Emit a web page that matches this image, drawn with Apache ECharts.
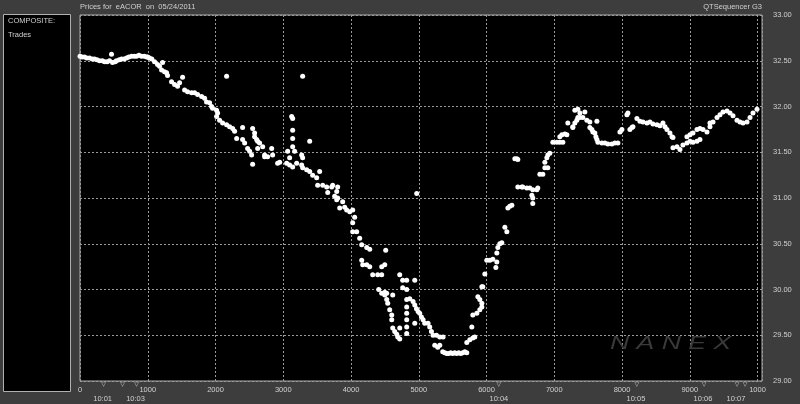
<!DOCTYPE html>
<html><head><meta charset="utf-8">
<script src="https://cdn.jsdelivr.net/npm/echarts@6/dist/echarts.min.js"></script>
<style>html,body{margin:0;padding:0;background:#3d3d3d}#c{width:800px;height:404px}</style>
</head><body><div id="c"></div>
<script>
// ---- data: [trade index, price] ----
const openFlat = [[0,32.55],[30,32.54],[66,32.54],[100,32.53],[140,32.53],[180,32.52],[214,32.52],[250,32.51],[288,32.50],[330,32.50],[362,32.49],[400,32.49],[436,32.50],[465,32.57],[480,32.48],[520,32.49],[539,32.50],[580,32.51],[613,32.52],[650,32.52],[687,32.53],[720,32.54],[761,32.55],[800,32.55],[834,32.55],[870,32.56],[908,32.55],[950,32.55],[982,32.54],[1000,32.54],[1026,32.53],[1060,32.52]];
const decline = [[1100,32.49],[1145,32.46],[1174,32.44],[1204,32.40],[1219,32.48],[1248,32.38],[1278,32.37],[1292,32.34],[1351,32.27],[1396,32.24],[1440,32.22],[1470,32.26],[1514,32.32],[1544,32.18],[1588,32.16],[1647,32.15],[1691,32.15],[1736,32.13],[1795,32.11],[1839,32.09],[1868,32.05],[1913,32.04],[1942,32.00],[1957,31.98],[2016,31.96],[2031,31.93],[2016,31.89],[2060,31.85],[2105,31.82],[2164,31.80],[2208,31.78],[2253,31.76],[2282,31.73],[2164,32.33],[2312,31.65],[2400,31.64],[2430,31.60],[2474,31.54],[2504,31.51],[2533,31.47],[2400,31.77],[2548,31.76],[2577,31.71],[2577,31.67],[2607,31.64],[2622,31.62],[2651,31.60],[2548,31.37],[2622,31.54],[2696,31.56],[2725,31.47],[2725,31.45],[2769,31.45],[2829,31.54],[2843,31.47],[2917,31.38],[2947,31.39],[3124,31.89],[3139,31.87],[3139,31.74],[3139,31.65],[3139,31.56],[3168,31.51],[3094,31.44],[3065,31.51],[3050,31.38],[3094,31.36],[3139,31.34],[3198,31.38],[3272,31.47],[3286,31.44],[3390,31.62],[3286,32.33],[3272,31.36],[3286,31.33],[3345,31.31],[3390,31.29],[3434,31.25],[3493,31.22],[3537,31.29],[3508,31.14],[3582,31.14],[3641,31.12],[3656,31.06],[3715,31.12],[3730,31.14],[3789,31.07],[3803,31.12],[3759,31.02],[3803,31.00],[3789,30.98],[3877,30.96],[3907,30.90],[3833,30.89],[3936,30.87],[3981,30.85],[4025,30.87],[4054,30.79],[4025,30.73],[4025,30.63],[4084,30.63],[4128,30.56],[4158,30.49],[4232,30.46],[4276,30.44],[4512,30.43],[4158,30.32],[4173,30.27],[4232,30.27],[4276,30.25],[4453,30.25],[4498,30.27],[4320,30.16],[4394,30.16],[4453,30.16],[4970,31.05]];
const trough = [[4719,30.16],[4763,30.10],[4822,30.10],[4941,30.10],[4763,30.02],[4822,30.00],[4409,30.00],[4453,29.96],[4498,29.94],[4527,29.89],[4542,29.85],[4571,29.78],[4601,29.72],[4601,29.67],[4616,29.58],[4498,29.97],[4527,29.96],[4616,29.94],[4645,29.54],[4675,29.51],[4690,29.48],[4719,29.46],[4719,29.58],[4822,29.89],[4822,29.81],[4822,29.74],[4822,29.67],[4822,29.59],[4822,29.52],[4867,29.90],[4916,29.87],[4941,29.83],[4966,29.79],[4990,29.76],[5014,29.74],[5039,29.70],[5064,29.67],[5088,29.63],[5137,29.63],[5162,29.59],[5187,29.54],[5211,29.50],[5261,29.50],[5310,29.48],[5359,29.48],[4941,29.63],[5236,29.39],[5280,29.37],[5310,29.39],[5354,29.32],[5384,29.31],[5413,29.30],[5443,29.30],[5472,29.31],[5502,29.30],[5531,29.31],[5561,29.30],[5590,29.31],[5620,29.30],[5650,29.31],[5680,29.32],[5709,29.31]];
const recovery = [[5709,29.42],[5753,29.45],[5798,29.47],[5827,29.48],[5783,29.59],[5798,29.72],[5857,29.74],[5901,29.78],[5931,29.81],[5931,29.85],[5901,29.89],[5872,29.92],[5931,30.03],[5945,30.03],[5975,30.17],[6004,30.32],[6049,30.32],[6093,30.33],[6152,30.30],[6138,30.24],[6152,30.40],[6167,30.46],[6196,30.50],[6226,30.51],[6271,30.68],[6300,30.63],[6315,30.89],[6344,30.91],[6374,30.92],[6418,31.43],[6448,31.43],[6462,31.42],[6462,31.12],[6521,31.12],[6536,31.12],[6595,31.11],[6639,31.11],[6683,31.09],[6743,31.09],[6757,31.11],[6669,31.03],[6683,31.00],[6683,30.94],[6787,31.26],[6831,31.26],[6861,31.33],[6905,31.33],[6861,31.39],[6890,31.44],[6905,31.47],[6934,31.49],[6979,31.61],[7038,31.61],[7082,31.61],[7127,31.61],[7082,31.67],[7112,31.69],[7156,31.70],[7186,31.69],[7200,31.82]];
const afternoon = [[7274,31.78],[7304,31.82],[7333,31.85],[7348,31.88],[7378,31.88],[7422,31.88],[7481,31.85],[7525,31.83],[7304,31.96],[7348,31.97],[7378,31.93],[7452,31.94],[7274,31.77],[7629,31.84],[7525,31.77],[7555,31.75],[7570,31.72],[7599,31.71],[7614,31.67],[7629,31.64],[7644,31.61],[7703,31.60],[7747,31.60],[7791,31.59],[7850,31.59],[7895,31.60],[7939,31.60],[7969,31.72],[7998,31.75],[8072,31.91],[8087,31.93],[8146,31.77],[8116,31.75],[8161,31.78],[8220,31.87],[8264,31.84],[8309,31.83],[8368,31.82],[8412,31.83],[8457,31.81],[8516,31.80],[8560,31.79],[8604,31.82],[8634,31.78],[8663,31.75],[8707,31.71],[8737,31.67],[8752,31.66],[8752,31.55],[8811,31.56],[8855,31.53],[8899,31.58],[8958,31.60],[9003,31.62],[9047,31.61],[8958,31.67],[9003,31.69],[9047,31.71],[9106,31.75],[9150,31.76],[9195,31.75],[9254,31.72],[9298,31.78],[9106,31.62],[9150,31.64],[9298,31.82],[9343,31.83],[9402,31.88],[9446,31.91],[9490,31.94],[9549,31.95],[9594,31.93],[9638,31.90],[9697,31.85],[9741,31.83],[9786,31.82],[9845,31.83],[9889,31.88],[9933,31.93],[9992,31.97]];

// axis labels
const tradeTicks = [0,1000,2000,3000,4000,5000,6000,7000,8000,9000,10000];
const tradeTickLabels = ['0','1000','2000','3000','4000','5000','6000','7000','8000','9000','1000'];
const timeTickIdx = [334, 820, 6182, 8205, 9195, 9682];
const timeTickLabels = ['10:01','10:03','10:04','10:05','10:06','10:07'];
const timeMarkIdx = [347, 628, 834, 6182, 8220, 9210, 9697, 9815];

const title = 'Prices for  eACOR  on  05/24/2011';
const sourceText = 'QTSequencer G3';
const panelLines = ['COMPOSITE:', 'Trades'];
const watermark = 'N A N E X';

const FONT = 'Liberation Sans, Arial, sans-serif';
const LBL = '#d0d0d0';
const XMAX = 10066;

const chart = echarts.init(document.getElementById('c'));
const axisBase = {type:'value', min:0, max:XMAX, gridIndex:0, position:'bottom',
  axisLine:{show:false}, axisTick:{show:false}, splitLine:{show:false}};
chart.setOption({
  animation:false,
  backgroundColor:'#3d3d3d',
  grid:{left:80, top:15, width:682, height:366, show:true, backgroundColor:'#000', borderColor:'#b0b0b0', borderWidth:1},
  xAxis:[
    Object.assign({}, axisBase, {
      interval:1000,
      splitLine:{show:true, lineStyle:{color:'#9a9a9a', type:[2,2], width:1}},
      axisLabel:{show:true, customValues:tradeTicks, margin:5, color:LBL, fontSize:7.5, fontFamily:FONT,
        formatter:v=>tradeTickLabels[tradeTicks.indexOf(v)] ?? ''}
    }),
    Object.assign({}, axisBase, {
      axisLabel:{show:true, customValues:timeTickIdx, margin:14, color:LBL, fontSize:7.5, fontFamily:FONT,
        formatter:v=>timeTickLabels[timeTickIdx.indexOf(v)] ?? ''}
    }),
    Object.assign({}, axisBase, {
      axisLabel:{show:true, customValues:timeMarkIdx, margin:0, color:'#c8c8c8', fontSize:6, fontFamily:'DejaVu Sans',
        formatter:()=>'▽'}
    })
  ],
  yAxis:{type:'value', min:29, max:33, interval:0.5, position:'right',
    axisLine:{show:false}, axisTick:{show:false},
    splitLine:{show:true, lineStyle:{color:'#9a9a9a', type:[2,2], width:1}},
    axisLabel:{margin:11, color:LBL, fontSize:7.5, fontFamily:FONT, formatter:v=>v.toFixed(2)}},
  graphic:[
    {type:'rect', shape:{x:3.5, y:14.5, width:67, height:377}, style:{fill:'#000', stroke:'#b0b0b0', lineWidth:1}},
    {type:'text', x:8, y:17, style:{text:panelLines[0], fill:LBL, font:'7.5px '+FONT}},
    {type:'text', x:8, y:31, style:{text:panelLines[1], fill:LBL, font:'7.5px '+FONT}},
    {type:'text', x:80, y:3, style:{text:title, fill:LBL, font:'7.5px '+FONT}},
    {type:'text', x:762, y:3, style:{text:sourceText, fill:LBL, font:'7.5px '+FONT, align:'right'}},
    {type:'text', x:610, y:334, scaleX:1.4, z:1, style:{text:watermark, fill:'#3a3a3a', font:'italic 19px '+FONT}}
  ],
  series:[openFlat, decline, trough, recovery, afternoon].map(d=>({
    type:'scatter', xAxisIndex:0, data:d, symbol:'circle', symbolSize:5,
    itemStyle:{color:'#ffffff', opacity:1}, z:5
  }))
});
</script></body></html>
